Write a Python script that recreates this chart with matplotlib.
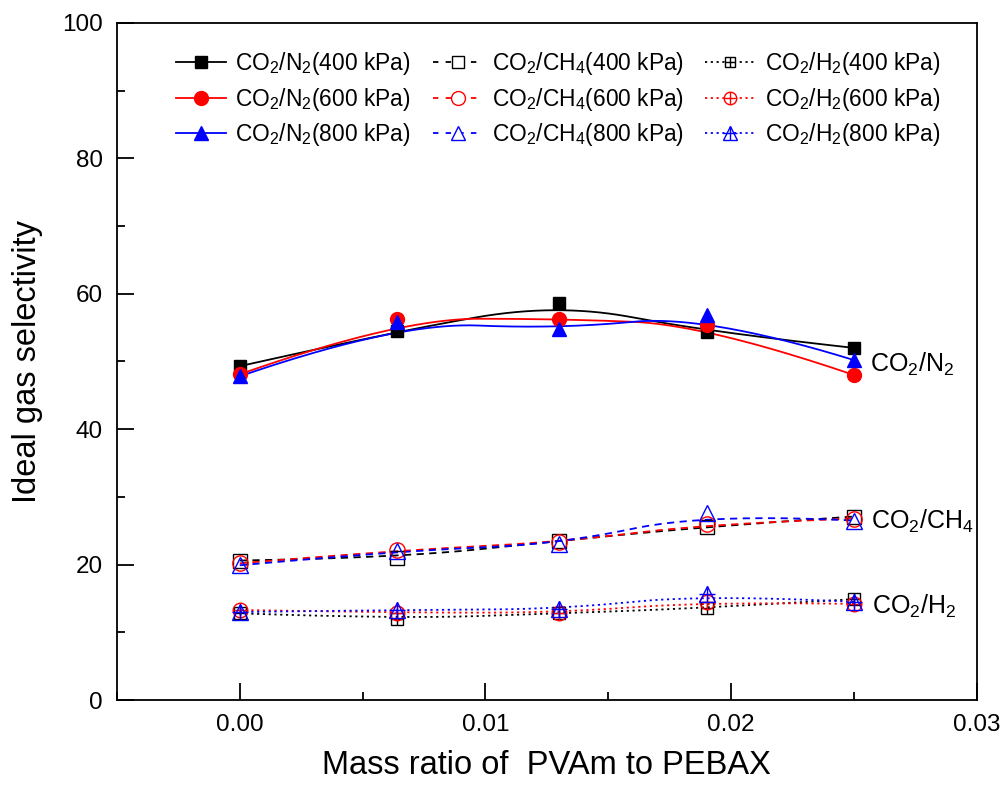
import numpy as np
import matplotlib
matplotlib.use("Agg")
import matplotlib.pyplot as plt
from matplotlib.ticker import MultipleLocator, FormatStrFormatter
from matplotlib.legend_handler import HandlerTuple

plt.rcParams['font.family'] = ['Liberation Sans', 'DejaVu Sans']
plt.rcParams['mathtext.fontset'] = 'custom'
plt.rcParams['mathtext.rm'] = 'Liberation Sans'
plt.rcParams['mathtext.it'] = 'Liberation Sans:italic'

# ---- data ----
mass_ratio = [0.0, 0.0064, 0.013, 0.019, 0.025]
pressures = ["400 kPa", "600 kPa", "800 kPa"]

n2_400 = [49.3, 54.5, 58.6, 54.4, 52.0]
n2_600 = [48.1, 56.3, 56.3, 55.4, 48.0]
n2_800 = [47.8, 55.8, 54.8, 56.9, 50.2]

ch4_400 = [20.6, 21.0, 23.5, 25.6, 27.1]
ch4_600 = [20.2, 22.1, 23.3, 26.0, 26.8]
ch4_800 = [19.9, 22.0, 23.0, 27.6, 26.5]

h2_400 = [12.8, 12.0, 12.8, 13.6, 14.9]
h2_600 = [13.3, 12.9, 12.9, 14.5, 14.2]
h2_800 = [13.0, 13.3, 13.4, 15.6, 14.5]

colors = ["black", "red", "blue"]
markers = ["s", "o", "^"]
msizes = [8.5, 10, 10.5]


def bspline(xs, ys, k=2, n=200):
    """Clamped B-spline connection (Origin-style B-spline line)."""
    P = np.column_stack([xs, ys]).astype(float)
    m = len(P)
    inner = np.linspace(0, 1, m - k + 1)
    knots = np.concatenate([np.zeros(k), inner, np.ones(k)])
    t = np.linspace(0, 1, n)
    t[-1] = 1 - 1e-12

    def N(i, p, tt):
        if p == 0:
            return np.where((knots[i] <= tt) & (tt < knots[i + 1]), 1.0, 0.0)
        out = np.zeros_like(tt)
        d1 = knots[i + p] - knots[i]
        d2 = knots[i + p + 1] - knots[i + 1]
        if d1 > 0:
            out += (tt - knots[i]) / d1 * N(i, p - 1, tt)
        if d2 > 0:
            out += (knots[i + p + 1] - tt) / d2 * N(i + 1, p - 1, tt)
        return out

    B = np.array([N(i, k, t) for i in range(m)])
    C = B.T @ P
    return C[:, 0], C[:, 1]


fig = plt.figure(figsize=(10.08, 7.87), dpi=100)
ax = fig.add_axes([0.116, 0.1105, 0.853, 0.8605])

LW = 1.3
DASH = (0, (4, 3))
DOT = (0, (1.2, 2))
DASH_LEG = (0, (3, 4))

entries = []

# CO2/N2 solid, filled markers
for ys, c, mk, ms, p in zip([n2_400, n2_600, n2_800], colors, markers, msizes, pressures):
    sx, sy = bspline(mass_ratio, ys)
    ax.plot(sx, sy, color=c, lw=LW, zorder=2)
    ax.plot(mass_ratio, ys, ls='none', marker=mk, color=c, ms=ms, zorder=3)
    h, = ax.plot([], [], color=c, lw=LW, marker=mk, ms=ms)
    entries.append((h, r"CO$_2$/N$_2$(" + p + ")"))

# CO2/CH4 dashed, open markers
for ys, c, mk, ms, p in zip([ch4_400, ch4_600, ch4_800], colors, markers, msizes, pressures):
    sx, sy = bspline(mass_ratio, ys)
    ax.plot(sx, sy, color=c, lw=LW, ls=DASH, zorder=2)
    ax.plot(mass_ratio, ys, ls='none', marker=mk, mfc='none', mec=c,
            mew=1.0, ms=ms + 1, zorder=3)
    h, = ax.plot([], [], color=c, lw=LW, ls=DASH_LEG, marker=mk,
                 mfc='white', mec=c, mew=1.0, ms=ms)
    entries.append((h, r"CO$_2$/CH$_4$(" + p + ")"))

# CO2/H2 dotted, open markers with cross
for ys, c, mk, ms, p in zip([h2_400, h2_600, h2_800], colors, markers, msizes, pressures):
    sx, sy = bspline(mass_ratio, ys)
    ax.plot(sx, sy, color=c, lw=LW, ls=DOT, zorder=2)
    ax.plot(mass_ratio, ys, ls='none', marker=mk, mfc='none', mec=c,
            mew=1.0, ms=ms + 0.5, zorder=3)
    ax.plot(mass_ratio, ys, ls='none', marker='+', color=c,
            mew=1.0, ms=ms + 0.5, zorder=3)
    h, = ax.plot([], [], color=c, lw=LW, ls=DOT, marker=mk,
                 mfc='white', mec=c, mew=1.0, ms=ms - 1)
    h2, = ax.plot([], [], ls='none', marker='+', color=c, mew=1.0, ms=ms - 1)
    entries.append(((h, h2), r"CO$_2$/H$_2$(" + p + ")"))

handles = [e[0] for e in entries]
labels = [e[1] for e in entries]

ax.legend(handles, labels, ncol=3, loc='upper left',
          bbox_to_anchor=(0.045, 0.99), frameon=False, fontsize=16.4,
          handlelength=2.2, handletextpad=0.4, columnspacing=0.95,
          labelspacing=0.38,
          handler_map={tuple: HandlerTuple(ndivide=1, pad=0)})

# annotations
ax.text(0.02565, 49.5, r"CO$_2$/N$_2$", fontsize=18, va='center', ha='left')
ax.text(0.0257, 26.4, r"CO$_2$/CH$_4$", fontsize=18, va='center', ha='left')
ax.text(0.02575, 13.9, r"CO$_2$/H$_2$", fontsize=18, va='center', ha='left')

ax.set_xlim(-0.005, 0.03)
ax.set_ylim(0, 100)
ax.xaxis.set_major_locator(MultipleLocator(0.01))
ax.xaxis.set_minor_locator(MultipleLocator(0.005))
ax.yaxis.set_major_locator(MultipleLocator(20))
ax.yaxis.set_minor_locator(MultipleLocator(10))
ax.xaxis.set_major_formatter(FormatStrFormatter('%.2f'))

ax.tick_params(which='both', direction='in', top=False, right=False,
               labelsize=17.5, width=1.3)
ax.tick_params(which='major', length=12, pad=10)
ax.tick_params(which='minor', length=6)
for s in ax.spines.values():
    s.set_linewidth(1.3)

ax.set_xlabel("Mass ratio of  PVAm to PEBAX", fontsize=23.5, labelpad=10)
ax.set_ylabel("Ideal gas selectivity", fontsize=23.5, labelpad=14)

fig.savefig("out.png", dpi=100)
